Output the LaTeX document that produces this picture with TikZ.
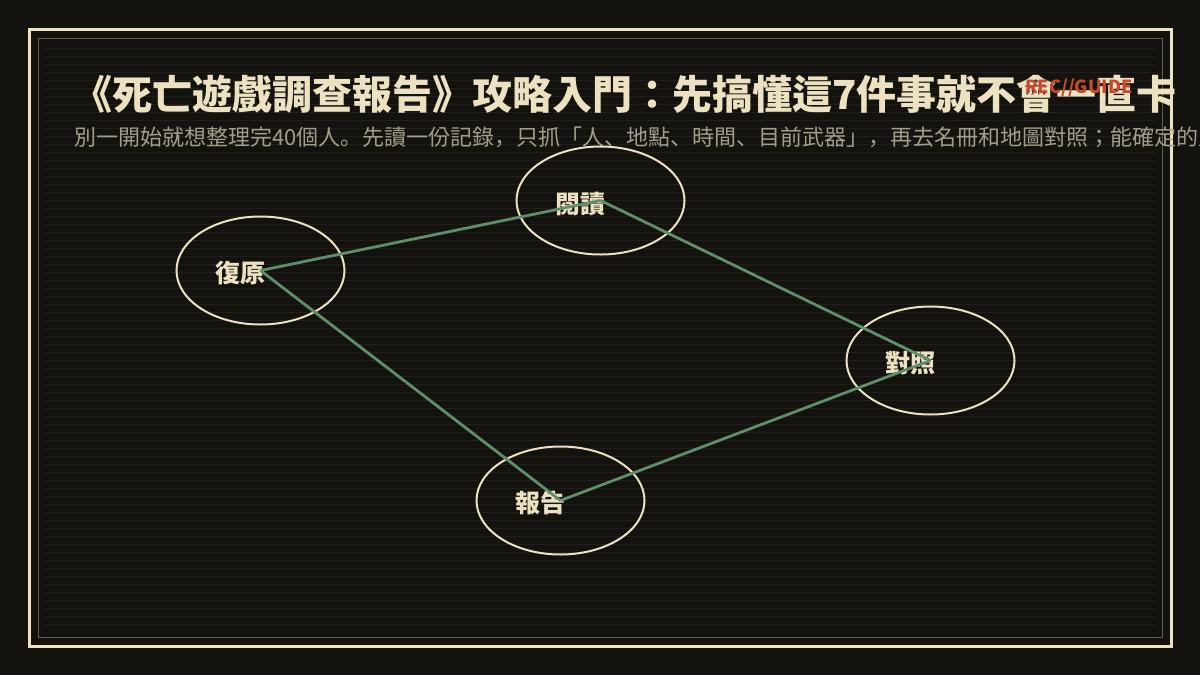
\documentclass[tikz,border=0pt]{standalone}
\usepackage{fontspec}
\newfontfamily\cjk{Noto Sans CJK JP}
\usetikzlibrary{shapes.geometric,calc}
\definecolor{bg}{HTML}{14120E}
\definecolor{cream}{HTML}{ECE2C2}
\definecolor{stripe}{HTML}{221F1A}
\definecolor{framegray}{HTML}{5F5C50}
\definecolor{subgray}{HTML}{A39D8B}
\definecolor{recred}{HTML}{C5482F}
\definecolor{edgegreen}{HTML}{5E8E6A}
\tikzset{
  stage/.style={ellipse, draw=cream, line width=2pt, minimum width=168pt, minimum height=108pt, inner sep=0pt},
  stagelabel/.style={text=cream, font=\cjk\bfseries\fontsize{25}{30}\selectfont, inner sep=0pt},
  link/.style={draw=edgegreen, line width=2.8pt},
}
\begin{document}
\begin{tikzpicture}[x=1pt,y=-1pt]
\clip (0,0) rectangle (1200,675);
\fill[bg] (0,0) rectangle (1200,675);
% stripes
\foreach \k in {0,...,72} {
  \draw[stripe, line width=1pt] (45,48+8*\k) -- (1155,48+8*\k);
}
% frames
\draw[cream, line width=3pt] (29.5,29.5) rectangle (1171,646.5);
\draw[framegray, line width=1pt] (38.5,38.5) rectangle (1162.5,637.5);
% title
\node[anchor=base west, inner sep=0pt, text=cream, font=\cjk\bfseries\fontsize{40}{48}\selectfont] (title) at (72,109) {《死亡遊戲調查報告》攻略入門：先搞懂這7件事就不會一直卡};
\node[anchor=base west, inner sep=0pt, text=recred, font=\cjk\bfseries\fontsize{18}{22}\selectfont] (rec) at (1025,93) {REC//GUIDE};
\node[anchor=base west, inner sep=0pt, text=subgray, font=\cjk\fontsize{22}{26}\selectfont] (sub) at (74,145) {別一開始就想整理完40個人。先讀一份記錄，只抓「人、地點、時間、目前武器」，再去名冊和地圖對照；能確定的人再寫進報告};
% stages
\node[stage] (read) at (600.5,200.5) {};
\node[stage] (restore) at (260.5,270.5) {};
\node[stage] (check) at (930.5,360.5) {};
\node[stage] (report) at (560.5,500.5) {};
\node[stagelabel] (readL) at ($(read)+(-20,3)$) {閱讀};
\node[stagelabel] (restoreL) at ($(restore)+(-20,3)$) {復原};
\node[stagelabel] (checkL) at ($(check)+(-20,3)$) {對照};
\node[stagelabel] (reportL) at ($(report)+(-20,3)$) {報告};
% links
\draw[link] (restore.center) -- (read.center);
\draw[link] (read.center) -- (check.center);
\draw[link] (check.center) -- (report.center);
\draw[link] (report.center) -- (restore.center);
\end{tikzpicture}
\end{document}
